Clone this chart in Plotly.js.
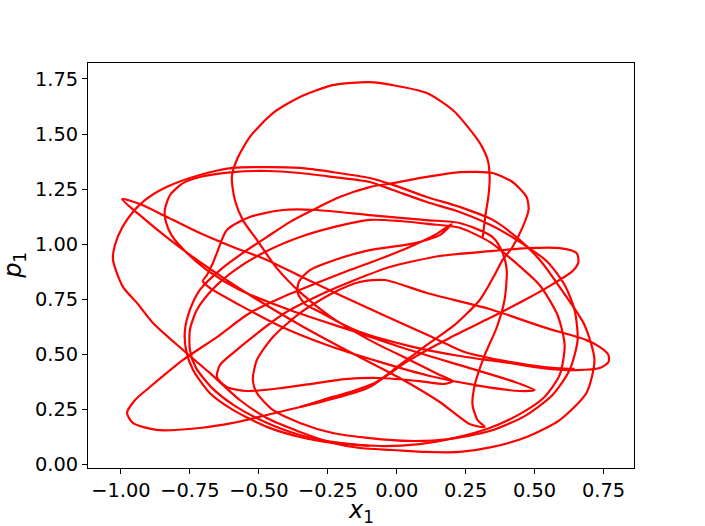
<!DOCTYPE html>
<html><head><meta charset="utf-8">
<script src="https://cdn.plot.ly/plotly-3.0.1.min.js"></script>
<style>body{margin:0;background:#fff}#chart{width:705px;height:526px}</style>
</head><body><div id="chart"></div>
<script>
// Trajectory pieces (x1, p1)
const mainX = [0.312,0.322,0.333,0.337,0.330,0.308,0.275,0.203,0.109,-0.014,-0.098,-0.232,-0.351,-0.449,-0.533,-0.580,-0.598,-0.587,-0.558,-0.507,-0.435,-0.351,-0.243,-0.098,0.047,0.156,0.203,
 0.174,0.083,-0.062,-0.188,-0.290,-0.413,-0.543,-0.616,-0.652,-0.641,-0.594,-0.514,-0.406,-0.279,-0.152,-0.025,0.156,0.348,0.471,0.591,0.652,0.659,0.638,0.572,0.464,0.337,0.192,0.047,-0.080,-0.170,-0.232,-0.351,-0.471,-0.594,-0.714,-0.870,-0.957,-0.978,-0.949,-0.895,-0.775,-0.652,-0.533,-0.413,-0.290,-0.170,-0.062,0.047,0.138,0.199,
 0.156,0.047,-0.098,-0.225,-0.315,-0.355,-0.359,-0.333,-0.279,-0.152,0.047,0.228,0.409,0.529,0.652,0.736,0.768,0.768,0.736,0.688,0.529,0.348,0.109,-0.043,-0.134,-0.232,-0.351,-0.449,-0.507,-0.522,-0.507,-0.449,-0.351,-0.232,-0.098,0.047,0.192,0.337,0.464,0.565,0.627,0.656,0.645,0.609,0.547,0.446,0.348,0.228,0.109,-0.014,-0.098,-0.232,-0.351,-0.471,-0.594,-0.714,-0.775,-0.822,-0.841,-0.837,-0.815,-0.761,-0.688,-0.569,-0.388,-0.170,0.047,0.264,0.428,0.500,
 0.446,0.301,0.120,-0.062,-0.243,-0.424,-0.569,-0.678,-0.703,-0.688,-0.670,-0.652,-0.616,-0.533,-0.413,-0.290,-0.098,0.109,0.228,0.348,0.384,0.399,0.391,0.362,0.319,0.283,0.275,0.293,0.319,
 0.264,0.156,0.011,-0.170,-0.351,-0.533,-0.714,-0.822,-0.920,-0.996,-0.931,-0.833,-0.714,-0.594,-0.471,-0.351,-0.207,-0.025,0.120,0.246,0.409,0.536,0.645];
const mainY = [1.032,1.132,1.223,1.305,1.382,1.445,1.505,1.609,1.686,1.722,1.736,1.722,1.668,1.595,1.486,1.382,1.305,1.200,1.109,1.019,0.891,0.782,0.673,0.564,0.474,0.406,0.378,
 0.365,0.378,0.392,0.387,0.369,0.347,0.333,0.351,0.396,0.451,0.505,0.587,0.687,0.769,0.837,0.896,0.946,0.969,0.982,0.982,0.960,0.919,0.878,0.823,0.746,0.664,0.574,0.474,0.369,0.328,0.306,0.260,0.224,0.188,0.165,0.156,0.188,0.233,0.292,0.351,0.474,0.578,0.687,0.760,0.823,0.882,0.932,0.987,1.041,1.091,
 1.041,1.000,0.973,0.928,0.882,0.828,0.778,0.728,0.692,0.610,0.537,0.492,0.460,0.437,0.428,0.437,0.465,0.496,0.533,0.564,0.624,0.701,0.778,0.837,0.828,0.778,0.687,0.578,0.474,0.383,0.324,0.247,0.188,0.142,0.119,0.106,0.115,0.151,0.219,0.315,0.428,0.564,0.701,0.814,0.919,1.010,1.082,1.146,1.191,1.246,1.282,1.305,1.323,1.332,1.327,1.305,1.277,1.223,1.155,1.100,1.037,0.960,0.882,0.792,0.701,0.610,0.519,0.437,0.374,0.337,
 0.333,0.356,0.401,0.465,0.537,0.628,0.723,0.801,0.832,0.860,0.905,0.960,1.064,1.123,1.155,1.155,1.132,1.109,1.096,1.032,0.960,0.882,0.746,0.619,0.496,0.360,0.269,0.201,0.169,
 0.183,0.283,0.392,0.510,0.633,0.769,0.919,1.019,1.119,1.205,1.182,1.123,1.050,0.987,0.928,0.855,0.769,0.664,0.583,0.510,0.465,0.442,0.433];

const outerX = [-0.594,-0.471,-0.351,-0.232,-0.098,-0.014,0.109,0.228,0.348,0.446,0.525,0.598,0.681,0.717,0.688,0.591,0.471,0.348,0.228,0.109,-0.014,-0.134,-0.232,-0.351,-0.471,-0.569,-0.678,-0.775,-0.884,-0.942,-0.993,-1.029,-1.022,-0.996,-0.957,-0.913,-0.833,-0.714,-0.594];
const outerY = [1.346,1.350,1.346,1.327,1.300,1.269,1.214,1.169,1.110,1.019,0.919,0.792,0.633,0.474,0.324,0.201,0.124,0.079,0.056,0.056,0.065,0.074,0.097,0.147,0.210,0.292,0.415,0.519,0.642,0.733,0.806,0.929,0.996,1.074,1.146,1.200,1.260,1.314,1.346];

const loopEX = [-0.098,-0.232,-0.351,-0.471,-0.594,-0.678,-0.739,-0.764,-0.768,-0.750,-0.714,-0.641,-0.558,-0.471,-0.388,-0.304,-0.207,-0.098,-0.014,0.109,0.228,0.348,0.420,0.471,0.478,0.457,0.420,0.384,0.355,0.301,0.210,0.109,0.011,-0.098,-0.207,-0.351];
const loopEY = [0.083,0.097,0.124,0.170,0.247,0.324,0.429,0.519,0.610,0.701,0.792,0.882,0.960,1.032,1.100,1.155,1.214,1.259,1.277,1.305,1.327,1.323,1.282,1.214,1.155,1.078,0.987,0.928,0.860,0.746,0.633,0.542,0.451,0.351,0.306,0.260];

const loopCX = [-0.750,-0.750,-0.725,-0.670,-0.587,-0.478,-0.351,-0.225,-0.098,0.011,0.120,0.228,0.337,0.428,0.518,0.583,0.609,0.591,0.536,0.446,0.337,0.210,0.083,-0.062,-0.207,-0.351,-0.478,-0.587,-0.670,-0.728,-0.750];
const loopCY = [0.519,0.610,0.701,0.792,0.882,0.964,1.032,1.078,1.110,1.105,1.091,1.074,1.010,0.919,0.814,0.678,0.542,0.406,0.306,0.228,0.165,0.120,0.092,0.083,0.097,0.133,0.192,0.265,0.347,0.438,0.519];

const pieces = [[mainX, mainY],[outerX, outerY],[loopEX, loopEY],[loopCX, loopCY]];
const xs = [], ys = [];
pieces.forEach(([a,b],i)=>{ if(i){xs.push(null);ys.push(null);} xs.push(...a); ys.push(...b); });

const tickFont = {family:'DejaVu Sans', size:19.4, color:'#000'};
const xticks = [-1,-0.75,-0.5,-0.25,0,0.25,0.5,0.75];
const yticks = [0,0.25,0.5,0.75,1,1.25,1.5,1.75];
const fmt = v => (v<0?'\u2212':'') + Math.abs(v).toFixed(2);

Plotly.newPlot('chart',[{x:xs,y:ys,mode:'lines',line:{color:'#ff0000',width:2.2,shape:'spline',smoothing:0.7},connectgaps:false,hoverinfo:'skip'}],{
  width:705,height:526,margin:{l:88,r:70.5,t:63,b:58},
  paper_bgcolor:'#fff',plot_bgcolor:'#fff',showlegend:false,
  xaxis:{range:[-1.1196,0.8605],tickvals:xticks,ticktext:xticks.map(fmt),ticks:'outside',ticklen:5,tickwidth:1,tickcolor:'#000',
    showgrid:false,zeroline:false,showline:true,mirror:true,linecolor:'#000',linewidth:1,tickfont:tickFont},
  yaxis:{range:[-0.0168,1.8225],tickvals:yticks,ticktext:yticks.map(fmt),ticks:'outside',ticklen:5,tickwidth:1,tickcolor:'#000',
    showgrid:false,zeroline:false,showline:true,mirror:true,linecolor:'#000',linewidth:1,tickfont:tickFont},
  annotations:[
    {text:'<i>x</i><sub>1</sub>',xref:'paper',yref:'paper',x:0.5,y:-0.107,xanchor:'center',yanchor:'middle',showarrow:false,font:{family:'DejaVu Sans',size:24,color:'#000'}},
    {text:'<i>p</i><sub>1</sub>',xref:'paper',yref:'paper',x:-0.135,y:0.5,xanchor:'center',yanchor:'middle',textangle:-90,showarrow:false,font:{family:'DejaVu Sans',size:24,color:'#000'}}
  ]
},{staticPlot:true});
</script></body></html>
